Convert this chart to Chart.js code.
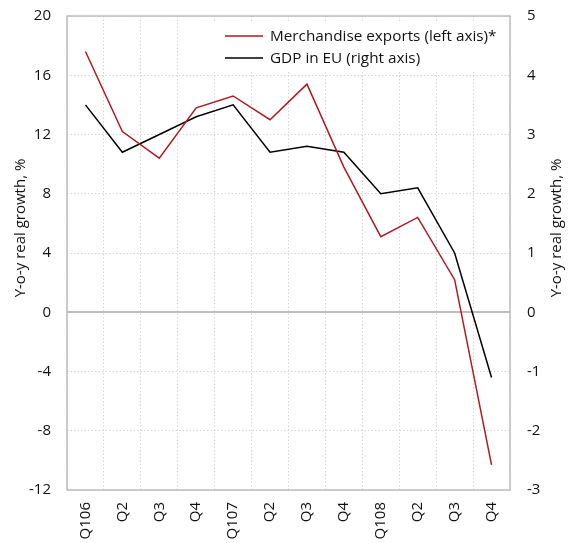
<!DOCTYPE html>
<html>
<head>
<meta charset="utf-8">
<script src="https://cdn.jsdelivr.net/npm/chart.js@4"></script>
<style>
  html, body { margin: 0; padding: 0; background: #fff; }
  #wrap { width: 572px; height: 543px; position: relative; }
</style>
</head>
<body>
<div id="wrap"><canvas id="c" width="572" height="543"></canvas></div>
<script>
// Quarterly categories
const quarters = ['Q106', 'Q2', 'Q3', 'Q4', 'Q107', 'Q2', 'Q3', 'Q4', 'Q108', 'Q2', 'Q3', 'Q4'];

// Y-o-y real growth, %
const merchandiseExports = [17.6, 12.2, 10.4, 13.8, 14.6, 13.0, 15.4, 9.8, 5.1, 6.4, 2.2, -10.3];
const gdpEU = [3.5, 2.7, 3.0, 3.3, 3.5, 2.7, 2.8, 2.7, 2.0, 2.1, 1.0, -1.1];

// Axis ranges and tick steps
const leftAxisRange = [-12, 20, 4];
const rightAxisRange = [-3, 5, 1];

const seriesLabels = ['Merchandise exports (left axis)*', 'GDP in EU (right axis)'];
const axisTitle = 'Y-o-y real growth, %';

const FONT = '"Open Sans", "Noto Sans", sans-serif';
const GRID = '#d6d6d6';
const FRAME = '#bdbdbd';
const RED = '#b01a22';

// Plot frame, zero line, legend and rotated axis titles
const decorations = {
  id: 'decorations',
  beforeDatasetsDraw(chart) {
    const { ctx, chartArea: a } = chart;
    const y0 = chart.scales.y.getPixelForValue(0);
    ctx.save();
    ctx.strokeStyle = FRAME;
    ctx.lineWidth = 2;
    ctx.beginPath();
    ctx.moveTo(a.left, Math.round(y0));
    ctx.lineTo(a.right, Math.round(y0));
    ctx.stroke();
    ctx.lineWidth = 1.5;
    ctx.strokeRect(a.left, a.top, a.right - a.left, a.bottom - a.top);
    ctx.restore();
  },
  afterDatasetsDraw(chart) {
    const { ctx, chartArea: a } = chart;
    ctx.save();
    // legend
    ctx.fillStyle = '#fff';
    ctx.fillRect(212, a.top + 6, 293, 48);
    ctx.font = '15.3px ' + FONT;
    ctx.textBaseline = 'middle';
    chart.data.datasets.forEach((ds, i) => {
      const y = a.top + 20 + i * 22;
      ctx.strokeStyle = ds.borderColor;
      ctx.lineWidth = 1.5;
      ctx.beginPath();
      ctx.moveTo(225, y);
      ctx.lineTo(263, y);
      ctx.stroke();
      ctx.fillStyle = '#111';
      ctx.textAlign = 'left';
      ctx.fillText(ds.label, 270, y + 1);
    });
    // axis titles
    ctx.font = '15px ' + FONT;
    ctx.fillStyle = '#111';
    ctx.textAlign = 'center';
    ctx.textBaseline = 'middle';
    const cy = 228;
    [21, 557].forEach(x => {
      ctx.save();
      ctx.translate(x, cy);
      ctx.rotate(-Math.PI / 2);
      ctx.fillText(axisTitle, 0, 0);
      ctx.restore();
    });
    ctx.restore();
  }
};

function fixVertical(width) {
  return function (s) {
    s.width = width;
    s.paddingTop = 0;
    s.paddingBottom = 0;
  };
}

new Chart(document.getElementById('c'), {
  type: 'line',
  data: {
    labels: quarters,
    datasets: [
      {
        label: seriesLabels[0],
        data: merchandiseExports,
        yAxisID: 'y',
        borderColor: RED,
        borderWidth: 1.5,
        pointRadius: 0,
        tension: 0,
        fill: false
      },
      {
        label: seriesLabels[1],
        data: gdpEU,
        yAxisID: 'y1',
        borderColor: '#000000',
        borderWidth: 1.5,
        pointRadius: 0,
        tension: 0,
        fill: false
      }
    ]
  },
  options: {
    responsive: false,
    animation: false,
    layout: { padding: { top: 16, left: 0, right: 0, bottom: 0 } },
    plugins: {
      legend: { display: false },
      tooltip: { enabled: false }
    },
    scales: {
      x: {
        type: 'category',
        offset: true,
        afterFit(s) { s.height = 53; s.paddingLeft = 0; s.paddingRight = 0; },
        grid: { offset: true, color: GRID, lineWidth: 1, drawTicks: false },
        border: { display: false, dash: [1.5, 2] },
        ticks: {
          autoSkip: false,
          minRotation: 90,
          maxRotation: 90,
          padding: 12,
          color: '#111',
          font: { family: FONT, size: 15 }
        }
      },
      y: {
        position: 'left',
        min: leftAxisRange[0],
        max: leftAxisRange[1],
        afterFit: fixVertical(67),
        grid: { color: GRID, lineWidth: 1, drawTicks: false },
        border: { display: false, dash: [1.5, 2] },
        ticks: {
          stepSize: leftAxisRange[2],
          padding: 16,
          color: '#111',
          font: { family: FONT, size: 15 }
        }
      },
      y1: {
        position: 'right',
        min: rightAxisRange[0],
        max: rightAxisRange[1],
        afterFit: fixVertical(62),
        grid: { display: false, drawTicks: false },
        border: { display: false },
        ticks: {
          stepSize: rightAxisRange[2],
          padding: 17,
          color: '#111',
          font: { family: FONT, size: 15 }
        }
      }
    }
  },
  plugins: [decorations]
});
</script>
</body>
</html>
